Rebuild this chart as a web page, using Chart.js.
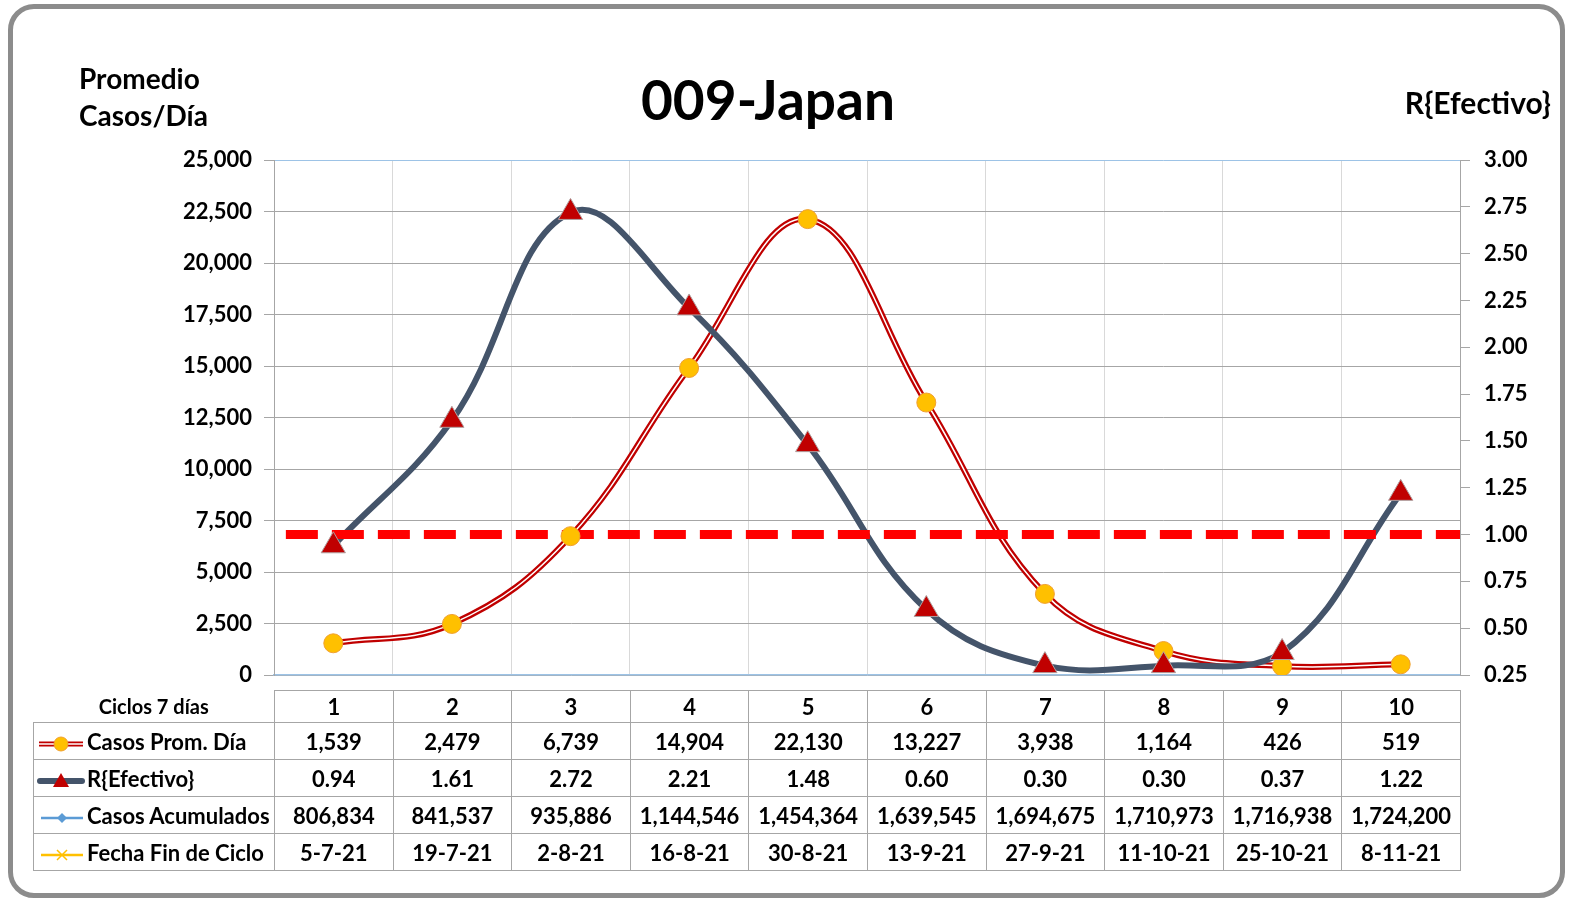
<!DOCTYPE html>
<html>
<head>
<meta charset="utf-8">
<script src="https://cdn.jsdelivr.net/npm/chart.js@4/dist/chart.umd.min.js"></script>
<style>
  html, body { margin: 0; padding: 0; background: #fff; width: 1581px; height: 906px; overflow: hidden; }
  body { font-family: Lato, "Open Sans", sans-serif; }
  #wrap { position: relative; width: 1581px; height: 906px; overflow: hidden; }
  #frame { position: absolute; left: 8px; top: 4px; width: 1547px; height: 884px; border: 5px solid #8c8c8c; border-radius: 26px; pointer-events: none; }
  #chart { position: absolute; left: 0; top: 0; }
  .lbl { position: absolute; font-weight: bold; color: #000; white-space: nowrap; }
  #title { left: 0; width: 1536px; top: 64px; text-align: center; font-size: 55px; line-height: 70px; }
  #yTitle { left: 79px; top: 60px; font-size: 28px; line-height: 37px; }
  #y1Title { right: 30px; top: 82px; font-size: 30px; line-height: 40px; }
  #tbl { position: absolute; left: 33px; top: 690px; border-collapse: collapse; table-layout: fixed; width: 1428px; font-weight: bold; font-size: 22px; }
  #tbl td { border: 1px solid #a6a6a6; text-align: center; padding: 0; height: 36px; white-space: nowrap; overflow: hidden; }
  #tbl tr.head td { height: 31px; }
  #tbl tr.head td.corner { border-left: none; border-top: none; font-size: 20px; }
  #tbl td.key { text-align: left; padding-left: 3px; }
  #tbl td.key svg { vertical-align: middle; margin-right: 2px; }
</style>
</head>
<body>
<div id="wrap">
<canvas id="chart" width="1581" height="906"></canvas>
<div id="frame"></div>
<div id="title" class="lbl">009-Japan</div>
<div id="yTitle" class="lbl">Promedio<br>Casos/Día</div>
<div id="y1Title" class="lbl">R{Efectivo}</div>
<table id="tbl"></table>
</div>

<script>
// --- datos del gráfico ---
const ciclos = ['1', '2', '3', '4', '5', '6', '7', '8', '9', '10'];
const casosProm = [1539, 2479, 6739, 14904, 22130, 13227, 3938, 1164, 426, 519];
const rEfectivo = [0.94, 1.61, 2.72, 2.21, 1.48, 0.60, 0.30, 0.30, 0.37, 1.22];
const casosAcum = [806834, 841537, 935886, 1144546, 1454364, 1639545, 1694675, 1710973, 1716938, 1724200];
const fechaFin = ['5-7-21', '19-7-21', '2-8-21', '16-8-21', '30-8-21', '13-9-21', '27-9-21', '11-10-21', '25-10-21', '8-11-21'];
// línea de referencia R = 1
const refX = [0.6, 10.5];
const refR = [1.0, 1.0];

const fmt = v => v.toLocaleString('en-US');

// --- tabla de datos bajo el gráfico ---
const keys = {
  casos: '<svg width="48" height="20"><line x1="2" y1="10" x2="46" y2="10" stroke="#c00000" stroke-width="5"/><line x1="2" y1="10" x2="46" y2="10" stroke="#fff" stroke-width="1.4"/><circle cx="24" cy="10" r="7" fill="#ffc000" stroke="#f0a030" stroke-width="1"/></svg>',
  r: '<svg width="48" height="20"><line x1="3" y1="10" x2="45" y2="10" stroke="#44546a" stroke-width="6" stroke-linecap="round"/><polygon points="24,2 32,16 16,16" fill="#c00000"/></svg>',
  acum: '<svg width="48" height="20"><line x1="4" y1="10" x2="46" y2="10" stroke="#5b9bd5" stroke-width="2.5"/><polygon points="25,5 30,10 25,15 20,10" fill="#5b9bd5"/></svg>',
  fecha: '<svg width="48" height="20"><line x1="4" y1="10" x2="46" y2="10" stroke="#ffc000" stroke-width="2.5"/><path d="M20 5 L30 15 M30 5 L20 15" stroke="#ffc000" stroke-width="1.5"/></svg>'
};
const rows = [
  { cls: 'head', label: 'Ciclos 7 días', vals: ciclos },
  { key: keys.casos, label: 'Casos Prom. Día', vals: casosProm.map(fmt) },
  { key: keys.r, label: 'R{Efectivo}', vals: rEfectivo.map(v => v.toFixed(2)) },
  { key: keys.acum, label: 'Casos Acumulados', vals: casosAcum.map(fmt) },
  { key: keys.fecha, label: 'Fecha Fin de Ciclo', vals: fechaFin }
];
const tbl = document.getElementById('tbl');
let html = '<colgroup><col style="width:241px">' + ciclos.map(() => '<col>').join('') + '</colgroup>';
rows.forEach(r => {
  html += '<tr class="' + (r.cls || '') + '">';
  if (r.cls === 'head') html += '<td class="corner">' + r.label + '</td>';
  else html += '<td class="key">' + r.key + r.label + '</td>';
  r.vals.forEach(v => { html += '<td>' + v + '</td>'; });
  html += '</tr>';
});
tbl.innerHTML = html;

// --- gráfico ---
const tickFont = { family: 'Lato', weight: 'bold', size: 22 };
const ctx = document.getElementById('chart').getContext('2d');
new Chart(ctx, {
  type: 'line',
  data: {
    labels: ciclos,
    datasets: [
      { // borde rojo de la línea doble
        data: casosProm, yAxisID: 'y', borderColor: '#c00000', borderWidth: 6,
        tension: 0.4, pointRadius: 0, order: 6
      },
      { // centro blanco de la línea doble
        data: casosProm, yAxisID: 'y', borderColor: '#ffffff', borderWidth: 1.5,
        tension: 0.4, pointRadius: 0, order: 5
      },
      {
        data: rEfectivo, yAxisID: 'y1', borderColor: '#44546a', borderWidth: 6,
        tension: 0.4, pointRadius: 0, order: 4
      },
      {
        data: refX.map((x, i) => ({ x: x, y: refR[i] })), xAxisID: 'xl', yAxisID: 'y1',
        borderColor: '#ff0000', borderWidth: 9, borderDash: [32, 14],
        pointRadius: 0, order: 3
      },
      {
        data: casosProm, yAxisID: 'y', showLine: false, pointStyle: 'circle',
        pointRadius: 9.5, pointBackgroundColor: '#ffc000', pointBorderColor: '#f0a030',
        pointBorderWidth: 1, order: 2
      },
      {
        data: rEfectivo, yAxisID: 'y1', showLine: false, pointStyle: 'triangle',
        pointRadius: 14, pointBackgroundColor: '#c00000', pointBorderColor: '#b0a0a0',
        pointBorderWidth: 1, order: 1
      }
    ]
  },
  options: {
    responsive: false,
    animation: false,
    events: [],
    layout: { padding: { left: 0, right: 0, top: 160, bottom: 231 } },
    plugins: { legend: { display: false }, tooltip: { enabled: false } },
    scales: {
      x: {
        type: 'category', offset: true,
        grid: { offset: true, color: '#d9d9d9', drawTicks: false },
        ticks: { display: false },
        border: { color: '#9dc3e6', width: 1.5 },
        afterFit: s => { s.height = 0; }
      },
      xl: { type: 'linear', min: 0.5, max: 10.5, display: false },
      y: {
        position: 'left', min: 0, max: 25000,
        ticks: { stepSize: 2500, color: '#000', font: tickFont, padding: 12, callback: v => fmt(v) },
        grid: {
          color: c => (c.tick && c.tick.value === 25000) ? '#9dc3e6' : '#a6a6a6',
          tickColor: '#a6a6a6', tickLength: 10, lineWidth: 1
        },
        border: { color: '#a6a6a6' },
        afterFit: s => { s.width = 274; }
      },
      y1: {
        position: 'right', min: 0.25, max: 3,
        ticks: { stepSize: 0.25, color: '#000', font: tickFont, padding: 14, callback: v => v.toFixed(2) },
        grid: { drawOnChartArea: false, tickColor: '#a6a6a6', tickLength: 10 },
        border: { color: '#a6a6a6' },
        afterFit: s => { s.width = 121; }
      }
    }
  }
});
</script>
</body>
</html>
